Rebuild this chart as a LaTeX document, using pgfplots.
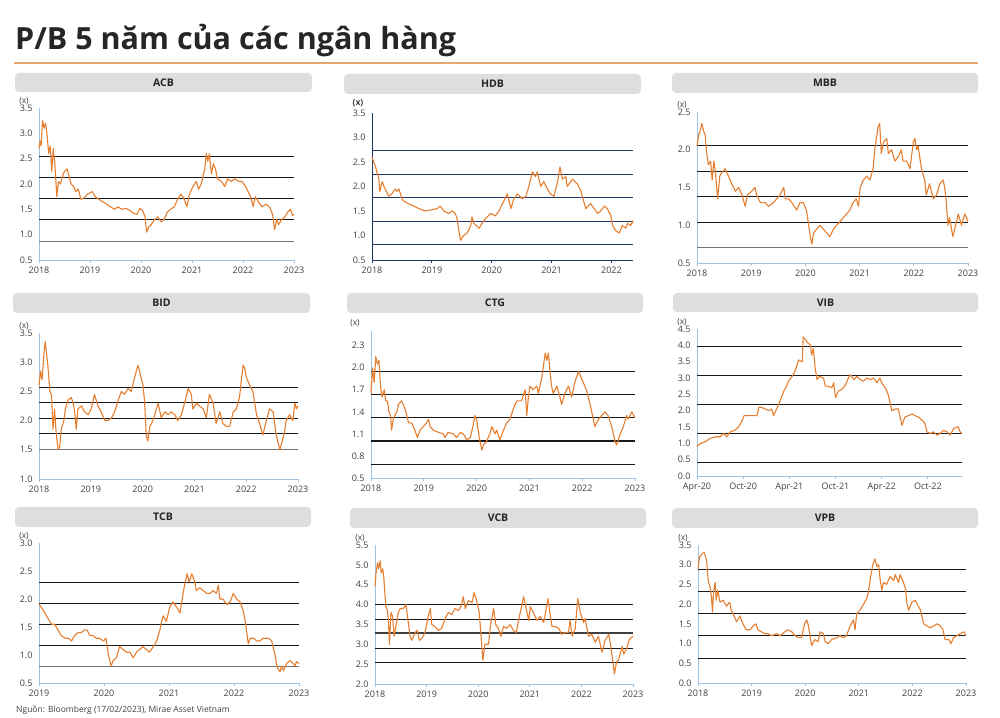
\documentclass[border=0pt]{standalone}
\usepackage{pgfplots}
\pgfplotsset{compat=1.18}
\usepackage{fontspec}
\setmainfont{Open Sans}
\definecolor{orangeline}{HTML}{E67E30}
\definecolor{axblue}{HTML}{9DC3E6}
\definecolor{navy}{HTML}{203864}
\definecolor{bargray}{HTML}{DEDEDE}
\definecolor{ticktxt}{HTML}{404040}
\definecolor{titlecol}{HTML}{262626}
\definecolor{ruleorange}{HTML}{E2AA70}
\pgfplotsset{
 panel/.style={
  scale only axis,
  anchor=south west,
  axis x line*=bottom,
  axis y line*=left,
  axis line style={draw=axblue, line width=0.9pt},
  every tick label/.append style={font=\fontsize{9}{10}\selectfont, text=ticktxt},
  /pgf/number format/assume math mode=true,
  y tick label style={/pgf/number format/.cd, fixed, fixed zerofill, precision=1, /tikz/.cd},
  ytick style={draw=none},
  xtick style={draw=axblue, line width=0.8pt},
  major tick length=3pt,
  tick align=outside,
  clip=false,
 },
 hl/.style={black!90, line width=1pt},
 hm/.style={black!90, line width=1.25pt},
 hg/.style={black!55, line width=1pt},
 ser/.style={orangeline, line width=1.1pt, line join=round},
}
\newcommand{\xlab}{\node[font=\fontsize{8.5}{9}\selectfont, text=ticktxt] at (rel axis cs:0,1) [xshift=-15pt, yshift=7pt] {(x)};}
\newcommand{\titlebar}[5]{\fill[bargray, rounded corners=4pt] (#1,#2) rectangle (#3,#4);
 \node[font=\fontsize{10.5}{12}\selectfont\bfseries, text=titlecol] at ({(#1+#3)/2},{(#2+#4)/2}) {#5};}
\begin{document}
\begin{tikzpicture}[x=1pt,y=1pt]
\useasboundingbox (0,0) rectangle (1000,717);
\node[anchor=base west, font=\fontsize{30.5}{36}\selectfont\bfseries, text=titlecol, inner sep=0pt] at (15,667) {P/B 5 năm của các ngân hàng};
\draw[ruleorange, line width=1.2pt] (14,654) -- (978,654);
\titlebar{15}{625}{312}{644}{ACB}
\titlebar{344}{623}{641}{643}{HDB}
\titlebar{672}{624}{978}{644}{MBB}
\titlebar{13}{404}{310}{424}{BID}
\titlebar{347}{404}{643}{424}{CTG}
\titlebar{673}{405}{978}{424}{VIB}
\titlebar{15}{190}{311}{210}{TCB}
\titlebar{350}{189}{646}{209}{VCB}
\titlebar{672}{189}{978}{209}{VPB}
\node[anchor=base west, font=\fontsize{8.5}{10}\selectfont, text=ticktxt, inner sep=0pt] at (16,5) {Nguồn: Bloomberg (17/02/2023), Mirae Asset Vietnam};

% ACB
\begin{axis}[panel, at={(39pt,457pt)}, width=255pt, height=152pt,
 xmin=2018, xmax=2023, ymin=0.5, ymax=3.5,
 xtick={2018,2019,2020,2021,2022,2023}, xticklabels={2018,2019,2020,2021,2022,2023},
 ytick={0.5,1.0,1.5,2.0,2.5,3.0,3.5}]
\addplot[hl] coordinates {(2018,2.55) (2023,2.55)};
\addplot[hl] coordinates {(2018,2.13) (2023,2.13)};
\addplot[hm] coordinates {(2018,1.72) (2023,1.72)};
\addplot[hl] coordinates {(2018,1.30) (2023,1.30)};
\addplot[hg] coordinates {(2018,0.87) (2023,0.87)};
\addplot[ser] coordinates {
(2018.00,2.70) (2018.02,2.85) (2018.04,2.75) (2018.07,3.25) (2018.10,3.10) (2018.13,3.20) (2018.16,2.95) (2018.19,2.60) (2018.22,2.75) (2018.25,2.25) (2018.28,2.70) (2018.31,2.40) (2018.35,1.75) (2018.38,2.05) (2018.42,2.00) (2018.46,2.15) (2018.50,2.25) (2018.55,2.30) (2018.59,2.15) (2018.63,2.00) (2018.68,1.95) (2018.72,1.85) (2018.77,1.90) (2018.82,1.70) (2018.88,1.72) (2018.95,1.80) (2019.05,1.85) (2019.10,1.75) (2019.20,1.68) (2019.30,1.62) (2019.40,1.55) (2019.48,1.50) (2019.55,1.55) (2019.62,1.50) (2019.70,1.52) (2019.78,1.48) (2019.85,1.42) (2019.92,1.40) (2019.98,1.52) (2020.03,1.48) (2020.08,1.35) (2020.11,1.05) (2020.15,1.15) (2020.20,1.20) (2020.27,1.30) (2020.33,1.35) (2020.40,1.25) (2020.45,1.30) (2020.52,1.45) (2020.58,1.50) (2020.65,1.55) (2020.72,1.70) (2020.78,1.80) (2020.84,1.72) (2020.90,1.55) (2020.95,1.80) (2021.02,1.95) (2021.08,2.05) (2021.13,1.90) (2021.18,2.00) (2021.25,2.30) (2021.28,2.60) (2021.31,2.45) (2021.34,2.60) (2021.38,2.20) (2021.42,2.40) (2021.46,2.30) (2021.50,2.10) (2021.58,2.05) (2021.64,1.95) (2021.70,2.10) (2021.77,2.05) (2021.84,2.10) (2021.92,2.05) (2021.98,2.05) (2022.05,1.95) (2022.10,1.85) (2022.15,1.75) (2022.20,1.55) (2022.24,1.75) (2022.30,1.65) (2022.37,1.55) (2022.45,1.60) (2022.52,1.55) (2022.58,1.40) (2022.62,1.10) (2022.66,1.30) (2022.70,1.20) (2022.76,1.30) (2022.82,1.35) (2022.88,1.45) (2022.93,1.50) (2022.97,1.38) (2023.00,1.40)};
\xlab
\end{axis}

% HDB
\begin{axis}[panel, at={(372pt,457pt)}, width=261pt, height=147pt,
 axis line style={draw=navy, line width=0.9pt}, xtick style={draw=navy, line width=0.8pt},
 xmin=2018, xmax=2022.36, ymin=0.5, ymax=3.5,
 xtick={2018,2019,2020,2021,2022}, xticklabels={2018,2019,2020,2021,2022},
 ytick={0.5,1.0,1.5,2.0,2.5,3.0,3.5}]
\addplot[navy, line width=1.1pt] coordinates {(2018,2.73) (2022.36,2.73)};
\addplot[navy, line width=1.1pt] coordinates {(2018,2.25) (2022.36,2.25)};
\addplot[navy, line width=1.1pt] coordinates {(2018,1.77) (2022.36,1.77)};
\addplot[navy, line width=1.1pt] coordinates {(2018,1.29) (2022.36,1.29)};
\addplot[navy, line width=1.1pt] coordinates {(2018,0.81) (2022.36,0.81)};
\addplot[ser] coordinates {
(2018.00,2.60) (2018.06,2.40) (2018.08,2.30) (2018.11,2.20) (2018.13,1.90) (2018.17,2.10) (2018.20,2.00) (2018.28,1.80) (2018.33,1.85) (2018.39,1.95) (2018.42,1.90) (2018.45,1.95) (2018.50,1.75) (2018.53,1.70) (2018.61,1.65) (2018.70,1.60) (2018.78,1.55) (2018.89,1.50) (2018.98,1.52) (2019.09,1.55) (2019.14,1.60) (2019.20,1.50) (2019.28,1.45) (2019.34,1.50) (2019.39,1.45) (2019.42,1.35) (2019.45,1.10) (2019.48,0.90) (2019.53,1.00) (2019.59,1.05) (2019.65,1.20) (2019.67,1.38) (2019.70,1.25) (2019.79,1.15) (2019.84,1.25) (2019.90,1.35) (2019.98,1.45) (2020.06,1.40) (2020.12,1.50) (2020.20,1.70) (2020.26,1.85) (2020.32,1.55) (2020.37,1.75) (2020.43,1.85) (2020.51,1.75) (2020.57,1.80) (2020.62,2.00) (2020.68,2.30) (2020.73,2.20) (2020.76,2.30) (2020.82,2.00) (2020.87,2.10) (2020.93,1.95) (2020.98,1.85) (2021.04,1.80) (2021.10,2.10) (2021.14,2.40) (2021.18,2.15) (2021.24,2.20) (2021.26,2.00) (2021.35,2.15) (2021.43,2.05) (2021.49,1.90) (2021.57,1.55) (2021.65,1.65) (2021.71,1.55) (2021.77,1.45) (2021.82,1.50) (2021.88,1.60) (2021.93,1.55) (2021.99,1.40) (2022.02,1.20) (2022.07,1.10) (2022.13,1.05) (2022.18,1.20) (2022.24,1.15) (2022.27,1.25) (2022.32,1.20) (2022.35,1.30) (2022.36,1.25)};
\node[font=\fontsize{8.5}{9}\selectfont\bfseries, text=ticktxt] at (rel axis cs:0,1) [xshift=-14pt, yshift=10pt] {(x)};
\end{axis}

% MBB
\begin{axis}[panel, at={(697pt,454pt)}, width=271pt, height=151pt,
 xmin=2018, xmax=2023, ymin=0.5, ymax=2.5,
 xtick={2018,2019,2020,2021,2022,2023}, xticklabels={2018,2019,2020,2021,2022,2023},
 ytick={0.5,1.0,1.5,2.0,2.5}]
\addplot[hl] coordinates {(2018,2.05) (2023,2.05)};
\addplot[hl] coordinates {(2018,1.71) (2023,1.71)};
\addplot[hm] coordinates {(2018,1.38) (2023,1.38)};
\addplot[hm] coordinates {(2018,1.04) (2023,1.04)};
\addplot[hg] coordinates {(2018,0.70) (2023,0.70)};
\addplot[ser] coordinates {
(2018.00,2.05) (2018.03,2.20) (2018.06,2.25) (2018.09,2.35) (2018.12,2.25) (2018.15,2.20) (2018.18,1.95) (2018.21,1.80) (2018.25,1.85) (2018.28,1.60) (2018.31,1.85) (2018.34,1.70) (2018.38,1.35) (2018.42,1.65) (2018.46,1.70) (2018.52,1.75) (2018.58,1.65) (2018.64,1.55) (2018.71,1.45) (2018.77,1.50) (2018.83,1.40) (2018.89,1.25) (2018.93,1.40) (2019.01,1.45) (2019.07,1.50) (2019.10,1.40) (2019.17,1.30) (2019.26,1.30) (2019.32,1.25) (2019.41,1.30) (2019.47,1.35) (2019.53,1.40) (2019.60,1.50) (2019.63,1.35) (2019.69,1.35) (2019.75,1.30) (2019.84,1.20) (2019.90,1.30) (2019.96,1.30) (2020.02,1.20) (2020.09,0.85) (2020.12,0.75) (2020.15,0.90) (2020.21,0.95) (2020.27,1.00) (2020.33,0.95) (2020.39,0.90) (2020.45,0.85) (2020.52,0.95) (2020.58,1.00) (2020.64,1.05) (2020.70,1.10) (2020.76,1.15) (2020.82,1.20) (2020.88,1.30) (2020.94,1.35) (2020.98,1.25) (2021.01,1.50) (2021.07,1.60) (2021.13,1.65) (2021.19,1.60) (2021.25,1.75) (2021.28,2.00) (2021.31,2.15) (2021.34,2.30) (2021.37,2.35) (2021.40,1.95) (2021.44,2.10) (2021.50,2.15) (2021.53,1.95) (2021.59,2.00) (2021.65,1.85) (2021.71,1.90) (2021.77,2.00) (2021.80,1.85) (2021.87,1.85) (2021.93,1.75) (2021.99,2.10) (2022.02,2.15) (2022.05,2.00) (2022.08,2.05) (2022.14,1.75) (2022.20,1.60) (2022.23,1.40) (2022.29,1.55) (2022.36,1.35) (2022.42,1.40) (2022.48,1.55) (2022.54,1.60) (2022.57,1.50) (2022.60,1.30) (2022.63,1.00) (2022.66,1.10) (2022.72,0.85) (2022.79,1.05) (2022.82,1.15) (2022.88,1.00) (2022.94,1.15) (2023.00,1.05)};
\xlab
\end{axis}

% BID
\begin{axis}[panel, at={(39pt,238pt)}, width=259pt, height=146pt,
 xmin=2018, xmax=2023, ymin=1.0, ymax=3.5,
 xtick={2018,2019,2020,2021,2022,2023}, xticklabels={2018,2019,2020,2021,2022,2023},
 ytick={1.0,1.5,2.0,2.5,3.0,3.5}]
\addplot[hl] coordinates {(2018,2.57) (2023,2.57)};
\addplot[hl] coordinates {(2018,2.31) (2023,2.31)};
\addplot[hm] coordinates {(2018,2.04) (2023,2.04)};
\addplot[hl] coordinates {(2018,1.78) (2023,1.78)};
\addplot[hg] coordinates {(2018,1.51) (2023,1.51)};
\addplot[ser] coordinates {
(2018.00,2.60) (2018.03,2.85) (2018.06,2.70) (2018.10,3.20) (2018.12,3.35) (2018.14,3.20) (2018.17,2.95) (2018.21,2.50) (2018.24,2.45) (2018.27,1.85) (2018.30,2.20) (2018.33,1.80) (2018.37,1.50) (2018.40,1.55) (2018.43,1.85) (2018.48,2.00) (2018.51,2.20) (2018.56,2.35) (2018.62,2.40) (2018.66,2.30) (2018.69,2.15) (2018.72,1.85) (2018.75,2.20) (2018.82,2.25) (2018.88,2.15) (2018.95,2.10) (2019.01,2.20) (2019.07,2.45) (2019.14,2.25) (2019.20,2.15) (2019.27,2.00) (2019.33,2.00) (2019.40,2.05) (2019.46,2.15) (2019.53,2.35) (2019.59,2.50) (2019.65,2.45) (2019.72,2.55) (2019.78,2.50) (2019.85,2.75) (2019.91,2.95) (2019.94,2.85) (2020.01,2.60) (2020.04,2.30) (2020.07,1.75) (2020.10,1.65) (2020.14,1.90) (2020.20,2.00) (2020.27,2.20) (2020.30,2.30) (2020.36,2.05) (2020.43,2.15) (2020.49,2.10) (2020.55,2.15) (2020.62,2.10) (2020.68,2.00) (2020.75,2.10) (2020.81,2.30) (2020.88,2.55) (2020.94,2.45) (2020.97,2.20) (2021.04,2.30) (2021.10,2.25) (2021.17,2.20) (2021.23,2.05) (2021.29,2.45) (2021.36,2.30) (2021.42,1.95) (2021.49,2.15) (2021.55,1.95) (2021.62,1.90) (2021.68,1.90) (2021.75,2.15) (2021.81,2.20) (2021.87,2.40) (2021.94,2.95) (2021.97,2.90) (2022.00,2.75) (2022.07,2.60) (2022.13,2.50) (2022.20,2.10) (2022.26,1.95) (2022.32,1.75) (2022.39,2.00) (2022.45,2.20) (2022.52,2.15) (2022.58,1.75) (2022.65,1.50) (2022.68,1.60) (2022.74,1.80) (2022.77,2.00) (2022.84,2.10) (2022.90,2.00) (2022.94,2.30) (2022.97,2.20) (2023.00,2.25)};
\xlab
\end{axis}

% CTG
\begin{axis}[panel, at={(371pt,239pt)}, width=264pt, height=147pt,
 xmin=2018, xmax=2023, ymin=0.5, ymax=2.5,
 xtick={2018,2019,2020,2021,2022,2023}, xticklabels={2018,2019,2020,2021,2022,2023},
 ytick={0.5,0.8,1.1,1.4,1.7,2.0,2.3}]
\addplot[hl] coordinates {(2018,1.95) (2023,1.95)};
\addplot[hl] coordinates {(2018,1.635) (2023,1.635)};
\addplot[hm] coordinates {(2018,1.32) (2023,1.32)};
\addplot[hm] coordinates {(2018,1.005) (2023,1.005)};
\addplot[hl] coordinates {(2018,0.69) (2023,0.69)};
\addplot[ser] coordinates {
(2018.00,1.65) (2018.03,2.00) (2018.06,1.80) (2018.09,2.15) (2018.12,2.05) (2018.15,2.10) (2018.18,1.75) (2018.21,1.60) (2018.25,1.70) (2018.28,1.55) (2018.31,1.55) (2018.34,1.40) (2018.37,1.35) (2018.39,1.15) (2018.42,1.30) (2018.45,1.35) (2018.49,1.40) (2018.52,1.50) (2018.58,1.55) (2018.61,1.50) (2018.64,1.45) (2018.68,1.35) (2018.71,1.25) (2018.77,1.25) (2018.83,1.15) (2018.88,1.05) (2018.93,1.15) (2018.99,1.20) (2019.05,1.25) (2019.09,1.30) (2019.12,1.20) (2019.18,1.15) (2019.28,1.12) (2019.37,1.10) (2019.40,1.05) (2019.46,1.12) (2019.56,1.10) (2019.62,1.05) (2019.69,1.12) (2019.75,1.10) (2019.81,1.02) (2019.88,1.05) (2019.93,1.20) (2019.97,1.35) (2020.00,1.30) (2020.05,1.05) (2020.10,0.88) (2020.13,0.95) (2020.19,1.00) (2020.25,1.10) (2020.29,1.20) (2020.35,1.10) (2020.38,1.15) (2020.44,1.02) (2020.51,1.15) (2020.57,1.25) (2020.63,1.30) (2020.70,1.45) (2020.76,1.55) (2020.85,1.55) (2020.92,1.70) (2020.95,1.35) (2020.98,1.60) (2021.01,1.75) (2021.07,1.70) (2021.14,1.75) (2021.17,1.65) (2021.23,1.85) (2021.26,2.00) (2021.30,2.20) (2021.33,2.10) (2021.36,2.20) (2021.39,1.95) (2021.42,1.75) (2021.45,1.65) (2021.52,1.75) (2021.58,1.60) (2021.61,1.50) (2021.67,1.65) (2021.74,1.75) (2021.80,1.60) (2021.86,1.80) (2021.93,1.95) (2021.96,1.90) (2022.02,1.80) (2022.08,1.70) (2022.15,1.50) (2022.21,1.30) (2022.24,1.20) (2022.31,1.30) (2022.37,1.35) (2022.43,1.40) (2022.49,1.35) (2022.56,1.20) (2022.62,1.00) (2022.65,0.95) (2022.72,1.10) (2022.78,1.20) (2022.84,1.35) (2022.87,1.30) (2022.94,1.40) (2023.00,1.32)};
\node[font=\fontsize{8.5}{9}\selectfont, text=ticktxt] at (rel axis cs:0,1) [xshift=-16pt, yshift=8pt] {(x)};
\end{axis}

% VIB
\begin{axis}[panel, at={(697pt,241pt)}, width=265pt, height=147pt,
 xmin=2020.25, xmax=2023.12, ymin=0, ymax=4.5,
 xtick={2020.25,2020.75,2021.25,2021.75,2022.25,2022.75}, xticklabels={Apr-20,Oct-20,Apr-21,Oct-21,Apr-22,Oct-22},
 ytick={0.0,0.5,1.0,1.5,2.0,2.5,3.0,3.5,4.0,4.5}]
\addplot[hm] coordinates {(2020.25,3.97) (2023.12,3.97)};
\addplot[hm] coordinates {(2020.25,3.07) (2023.12,3.07)};
\addplot[hm] coordinates {(2020.25,2.18) (2023.12,2.18)};
\addplot[hm] coordinates {(2020.25,1.30) (2023.12,1.30)};
\addplot[hl] coordinates {(2020.25,0.41) (2023.12,0.41)};
\addplot[ser] coordinates {
(2020.25,0.90) (2020.29,1.00) (2020.34,1.05) (2020.39,1.15) (2020.45,1.20) (2020.50,1.20) (2020.54,1.30) (2020.57,1.20) (2020.61,1.35) (2020.66,1.40) (2020.70,1.50) (2020.74,1.70) (2020.76,1.85) (2020.79,1.85) (2020.85,1.85) (2020.90,1.85) (2020.92,2.10) (2020.95,2.10) (2020.99,2.05) (2021.03,2.00) (2021.06,2.05) (2021.08,1.85) (2021.12,2.10) (2021.15,2.30) (2021.19,2.60) (2021.22,2.75) (2021.24,2.90) (2021.28,3.05) (2021.31,3.20) (2021.35,3.55) (2021.39,3.50) (2021.40,4.25) (2021.42,4.20) (2021.44,4.10) (2021.48,4.00) (2021.49,3.70) (2021.51,3.90) (2021.53,3.30) (2021.55,2.95) (2021.58,3.05) (2021.62,3.00) (2021.64,2.75) (2021.67,2.75) (2021.71,2.70) (2021.73,2.85) (2021.75,2.40) (2021.78,2.60) (2021.82,2.65) (2021.86,2.80) (2021.89,3.00) (2021.91,3.10) (2021.95,2.95) (2021.98,3.05) (2022.02,2.95) (2022.05,2.90) (2022.09,3.00) (2022.13,2.95) (2022.16,3.00) (2022.20,2.85) (2022.23,3.00) (2022.25,2.85) (2022.29,2.70) (2022.32,2.50) (2022.36,2.00) (2022.40,2.05) (2022.43,2.05) (2022.47,1.55) (2022.50,1.80) (2022.54,1.85) (2022.58,1.90) (2022.61,1.85) (2022.65,1.80) (2022.69,1.70) (2022.72,1.60) (2022.74,1.35) (2022.78,1.30) (2022.81,1.35) (2022.85,1.25) (2022.88,1.30) (2022.92,1.40) (2022.96,1.35) (2022.99,1.25) (2023.03,1.45) (2023.06,1.50) (2023.08,1.50) (2023.10,1.35) (2023.12,1.30)};
\xlab
\end{axis}

% TCB
\begin{axis}[panel, at={(39pt,34pt)}, width=260pt, height=140pt,
 xmin=2019, xmax=2023, ymin=0.5, ymax=3.0,
 xtick={2019,2020,2021,2022,2023}, xticklabels={2019,2020,2021,2022,2023},
 ytick={0.5,1.0,1.5,2.0,2.5,3.0}]
\addplot[hl] coordinates {(2019,2.29) (2023,2.29)};
\addplot[hl] coordinates {(2019,1.92) (2023,1.92)};
\addplot[hm] coordinates {(2019,1.55) (2023,1.55)};
\addplot[hl] coordinates {(2019,1.17) (2023,1.17)};
\addplot[hg] coordinates {(2019,0.80) (2023,0.80)};
\addplot[ser] coordinates {
(2019.00,1.90) (2019.04,1.85) (2019.09,1.75) (2019.14,1.65) (2019.19,1.55) (2019.24,1.55) (2019.29,1.45) (2019.34,1.35) (2019.40,1.30) (2019.45,1.30) (2019.50,1.25) (2019.55,1.35) (2019.60,1.40) (2019.65,1.40) (2019.70,1.45) (2019.74,1.45) (2019.78,1.35) (2019.83,1.35) (2019.88,1.30) (2019.93,1.30) (2019.99,1.25) (2020.03,1.30) (2020.06,1.05) (2020.09,0.90) (2020.11,0.80) (2020.14,0.90) (2020.19,0.95) (2020.24,1.15) (2020.29,1.10) (2020.35,1.05) (2020.40,1.05) (2020.45,0.95) (2020.50,1.05) (2020.55,1.10) (2020.60,1.15) (2020.65,1.10) (2020.70,1.05) (2020.76,1.15) (2020.81,1.25) (2020.86,1.45) (2020.91,1.70) (2020.96,1.60) (2021.01,1.85) (2021.06,1.95) (2021.12,1.85) (2021.17,1.75) (2021.21,2.05) (2021.24,2.25) (2021.28,2.45) (2021.31,2.30) (2021.35,2.45) (2021.40,2.30) (2021.42,2.15) (2021.47,2.20) (2021.53,2.15) (2021.58,2.10) (2021.63,2.10) (2021.68,2.15) (2021.73,2.10) (2021.76,2.25) (2021.78,2.00) (2021.83,2.00) (2021.89,1.90) (2021.94,1.95) (2021.99,2.10) (2022.04,2.00) (2022.09,1.95) (2022.14,1.80) (2022.18,1.55) (2022.22,1.20) (2022.25,1.30) (2022.30,1.30) (2022.35,1.25) (2022.40,1.25) (2022.45,1.30) (2022.53,1.30) (2022.58,1.25) (2022.63,1.00) (2022.66,0.80) (2022.68,0.75) (2022.71,0.70) (2022.73,0.80) (2022.76,0.72) (2022.81,0.85) (2022.86,0.90) (2022.91,0.85) (2022.94,0.80) (2022.96,0.88) (2023.00,0.85)};
\xlab
\end{axis}

% VCB
\begin{axis}[panel, at={(375pt,33pt)}, width=258pt, height=139pt,
 xmin=2018, xmax=2023, ymin=2.0, ymax=5.5,
 xtick={2018,2019,2020,2021,2022,2023}, xticklabels={2018,2019,2020,2021,2022,2023},
 ytick={2.0,2.5,3.0,3.5,4.0,4.5,5.0,5.5}]
\addplot[hl] coordinates {(2018,3.99) (2023,3.99)};
\addplot[hl] coordinates {(2018,3.63) (2023,3.63)};
\addplot[black!75, line width=2.2pt] coordinates {(2018,3.28) (2023,3.28)};
\addplot[hm] coordinates {(2018,2.90) (2023,2.90)};
\addplot[hl] coordinates {(2018,2.55) (2023,2.55)};
\addplot[ser] coordinates {
(2018.00,4.45) (2018.02,4.80) (2018.05,5.05) (2018.07,4.90) (2018.10,5.10) (2018.12,4.80) (2018.15,4.90) (2018.17,4.70) (2018.19,4.30) (2018.21,3.95) (2018.24,3.85) (2018.26,3.60) (2018.28,3.00) (2018.31,3.80) (2018.34,3.70) (2018.37,3.20) (2018.41,3.50) (2018.45,3.80) (2018.49,3.90) (2018.55,3.90) (2018.60,4.00) (2018.65,3.50) (2018.68,3.20) (2018.71,3.10) (2018.78,3.30) (2018.82,3.35) (2018.86,3.10) (2018.91,3.15) (2018.97,3.30) (2019.03,3.70) (2019.07,3.90) (2019.10,3.50) (2019.16,3.45) (2019.23,3.35) (2019.29,3.40) (2019.36,3.65) (2019.42,3.80) (2019.49,3.75) (2019.55,3.90) (2019.62,3.85) (2019.68,4.00) (2019.71,4.20) (2019.75,3.90) (2019.81,4.10) (2019.88,4.05) (2019.92,4.30) (2019.97,4.10) (2020.02,3.80) (2020.05,3.30) (2020.09,2.60) (2020.13,3.00) (2020.20,3.00) (2020.24,3.50) (2020.30,3.90) (2020.34,3.50) (2020.39,3.40) (2020.44,3.20) (2020.49,3.45) (2020.55,3.40) (2020.62,3.50) (2020.68,3.35) (2020.74,3.30) (2020.78,3.60) (2020.85,4.00) (2020.88,4.20) (2020.93,3.90) (2020.98,3.60) (2021.01,3.95) (2021.07,3.80) (2021.14,3.60) (2021.20,3.70) (2021.27,3.55) (2021.32,3.90) (2021.35,4.15) (2021.40,3.70) (2021.43,3.45) (2021.49,3.45) (2021.56,3.40) (2021.62,3.25) (2021.69,3.30) (2021.75,3.30) (2021.78,3.60) (2021.82,3.20) (2021.88,3.40) (2021.93,4.15) (2021.98,3.80) (2022.04,3.55) (2022.07,3.65) (2022.14,3.20) (2022.20,3.25) (2022.27,3.05) (2022.33,3.20) (2022.40,2.80) (2022.46,3.10) (2022.53,3.25) (2022.57,2.95) (2022.61,2.55) (2022.64,2.25) (2022.68,2.55) (2022.72,2.60) (2022.79,2.95) (2022.82,2.75) (2022.88,2.90) (2022.92,3.10) (2022.95,3.15) (2023.00,3.20)};
\xlab
\end{axis}

% VPB
\begin{axis}[panel, at={(698pt,34pt)}, width=268pt, height=138pt,
 xmin=2018, xmax=2023, ymin=0, ymax=3.5,
 xtick={2018,2019,2020,2021,2022,2023}, xticklabels={2018,2019,2020,2021,2022,2023},
 ytick={0.0,0.5,1.0,1.5,2.0,2.5,3.0,3.5}]
\addplot[hl] coordinates {(2018,2.88) (2023,2.88)};
\addplot[hl] coordinates {(2018,2.32) (2023,2.32)};
\addplot[hm] coordinates {(2018,1.76) (2023,1.76)};
\addplot[hm] coordinates {(2018,1.20) (2023,1.20)};
\addplot[hl] coordinates {(2018,0.63) (2023,0.63)};
\addplot[ser] coordinates {
(2018.00,2.90) (2018.03,3.20) (2018.06,3.25) (2018.09,3.30) (2018.12,3.30) (2018.16,3.10) (2018.19,2.60) (2018.22,2.45) (2018.25,2.20) (2018.27,1.80) (2018.29,2.30) (2018.32,2.55) (2018.34,2.10) (2018.37,2.35) (2018.41,2.05) (2018.47,2.10) (2018.53,1.95) (2018.59,2.05) (2018.62,1.85) (2018.69,1.65) (2018.72,1.55) (2018.78,1.70) (2018.84,1.50) (2018.90,1.35) (2018.97,1.35) (2019.03,1.45) (2019.08,1.50) (2019.12,1.35) (2019.18,1.30) (2019.25,1.25) (2019.31,1.25) (2019.37,1.20) (2019.47,1.25) (2019.53,1.20) (2019.62,1.30) (2019.68,1.35) (2019.75,1.30) (2019.81,1.20) (2019.87,1.15) (2019.93,1.15) (2019.99,1.50) (2020.03,1.60) (2020.06,1.45) (2020.09,1.20) (2020.12,0.95) (2020.18,1.10) (2020.24,1.05) (2020.28,1.30) (2020.34,1.25) (2020.37,1.05) (2020.43,1.00) (2020.49,1.10) (2020.59,1.15) (2020.65,1.20) (2020.71,1.15) (2020.77,1.20) (2020.84,1.45) (2020.90,1.60) (2020.93,1.35) (2020.96,1.75) (2021.02,1.85) (2021.09,2.00) (2021.15,2.15) (2021.18,2.30) (2021.21,2.60) (2021.26,3.00) (2021.30,3.15) (2021.34,2.95) (2021.37,3.00) (2021.40,2.60) (2021.43,2.35) (2021.46,2.55) (2021.52,2.50) (2021.58,2.70) (2021.65,2.60) (2021.68,2.75) (2021.74,2.55) (2021.77,2.75) (2021.82,2.60) (2021.87,2.40) (2021.90,2.00) (2021.93,1.85) (2021.99,2.05) (2022.05,2.10) (2022.11,1.95) (2022.15,1.85) (2022.21,1.50) (2022.27,1.45) (2022.33,1.40) (2022.40,1.45) (2022.46,1.50) (2022.52,1.45) (2022.57,1.35) (2022.61,1.10) (2022.68,1.10) (2022.72,1.00) (2022.77,1.15) (2022.83,1.20) (2022.89,1.25) (2022.96,1.30) (2023.00,1.20)};
\xlab
\end{axis}
\end{tikzpicture}
\end{document}
